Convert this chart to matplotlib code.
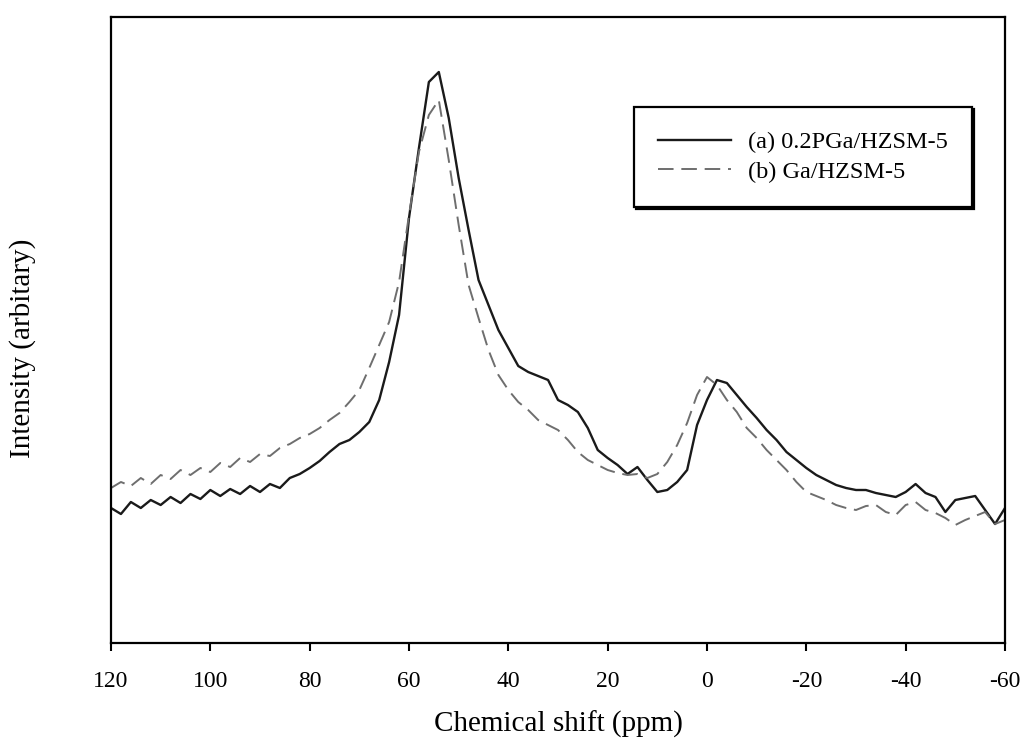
import numpy as np
import matplotlib
matplotlib.use("Agg")
import matplotlib.pyplot as plt

plt.rcParams['font.family'] = ['Liberation Serif', 'DejaVu Serif']

# Chemical shift (ppm), every 2 ppm from 120 to -60
shift = list(range(120, -61, -2))

# Heights (pixel rows from the top), turned into
# arbitrary intensity above the bottom axis below
ya_px = [508, 514, 502, 508, 500, 505, 497, 503, 494, 499,
         490, 496, 489, 494, 486, 492, 484, 488, 478, 474,
         468, 461, 452, 444, 440, 432, 422, 400, 362, 315,
         218, 148, 82, 72, 118, 178, 230, 280, 305, 330,
         348, 366, 372, 376, 380, 400, 405, 412, 428, 450,
         458, 465, 474, 467, 480, 492, 490, 482, 470, 425,
         400, 380, 383, 395, 407, 418, 430, 440, 452, 460,
         468, 475, 480, 485, 488, 490, 490, 493, 495, 497,
         492, 484, 493, 497, 512, 500, 498, 496, 510, 524,
         508]
yb_px = [488, 482, 486, 478, 484, 475, 479, 470, 475, 468,
         472, 463, 467, 458, 462, 454, 456, 448, 444, 438,
         434, 428, 420, 413, 402, 390, 368, 345, 322, 282,
         215, 152, 115, 100, 160, 225, 285, 318, 350, 375,
         390, 402, 410, 420, 425, 430, 440, 452, 460, 465,
         470, 473, 475, 474, 478, 474, 462, 445, 423, 395,
         377, 385, 400, 412, 428, 438, 450, 460, 470, 482,
         492, 496, 500, 505, 508, 510, 506, 505, 512, 515,
         505, 502, 510, 513, 518, 525, 520, 516, 512, 524,
         520]
intensity_a = [643 - v for v in ya_px]
intensity_b = [643 - v for v in yb_px]

labels = ["(a) 0.2PGa/HZSM-5", "(b) Ga/HZSM-5"]
xticks = [120, 100, 80, 60, 40, 20, 0, -20, -40, -60]

fig = plt.figure(figsize=(10.26, 7.47), dpi=100)
ax = fig.add_axes([111/1026, 1-643/747, 894/1026, 626/747])

ax.plot(shift, intensity_a, color='#1a1a1a', lw=1.7, label=labels[0])
ax.plot(shift, intensity_b, color='#6e6e6e', lw=1.4, dashes=(8, 4), label=labels[1])

ax.set_xlim(120, -60)
ax.set_ylim(0, 626)
ax.set_xticks(xticks)
ax.set_xticklabels([str(t) for t in xticks], fontsize=17)
ax.set_yticks([])
ax.tick_params(axis='x', direction='out', length=6, width=1.5, pad=14)
for s in ax.spines.values():
    s.set_linewidth(1.6)

ax.set_xlabel("Chemical shift (ppm)", fontsize=21)
ax.xaxis.set_label_coords(0.5, -0.108)
ax.set_ylabel("Intensity (arbitary)", fontsize=21)
ax.yaxis.set_label_coords(-0.084, 0.47)

leg = ax.legend(loc='upper right', bbox_to_anchor=(0.963, 0.856), borderaxespad=0,
                fontsize=17.5, frameon=True, fancybox=False, handlelength=3.0,
                borderpad=1.0, labelspacing=0.3, handletextpad=0.7,
                shadow={'color': 'black', 'alpha': 1.0, 'ox': 1.5, 'oy': -1.5})
leg.get_frame().set_edgecolor('black')
leg.get_frame().set_linewidth(1.6)
leg.get_frame().set_facecolor('white')

fig.savefig("out.png", dpi=100)
